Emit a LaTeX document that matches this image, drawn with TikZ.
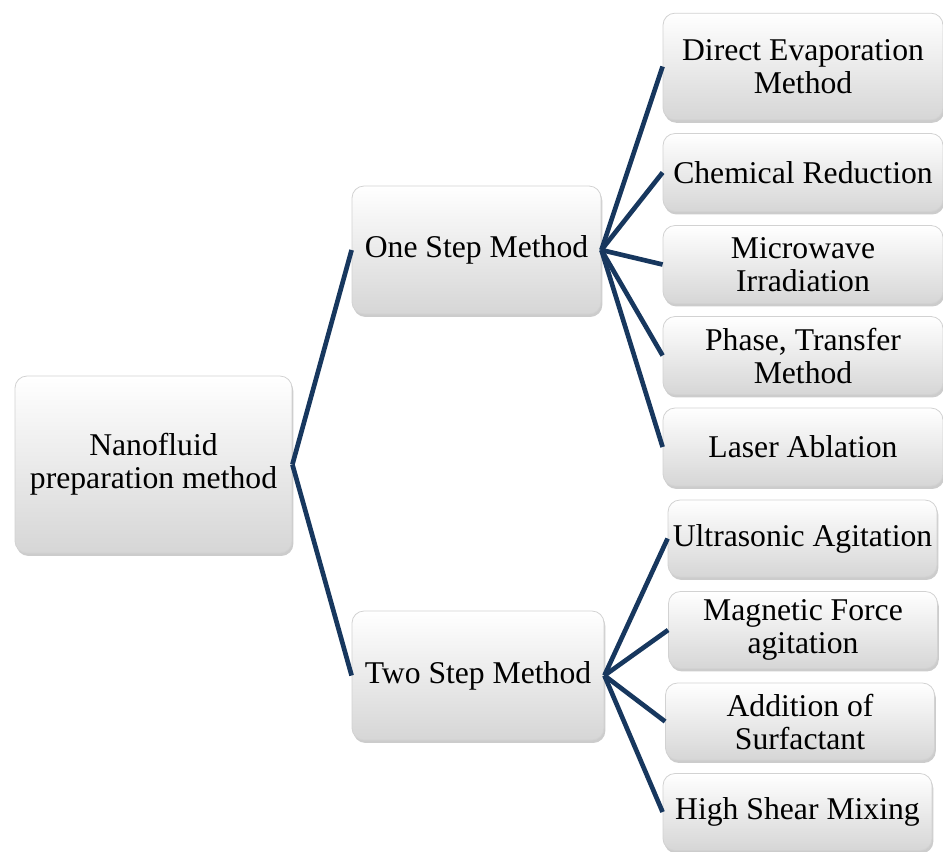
\documentclass[tikz,border=0pt]{standalone}
\usepackage{fontspec}
\setmainfont{Liberation Serif}
\usetikzlibrary{shadows}
\definecolor{linknavy}{RGB}{23,55,94}
\definecolor{boxedge}{RGB}{210,210,210}
\definecolor{boxlow}{RGB}{214,214,214}

\begin{document}
\begin{tikzpicture}[
  x=0.75pt, y=-0.75pt,
  box/.style={rectangle, rounded corners=9pt, draw=boxedge, line width=0.6pt,
              top color=white, bottom color=boxlow, align=center, inner sep=2pt,
              drop shadow={shadow xshift=1pt, shadow yshift=-2.2pt, opacity=0.4},
              font=\fontsize{23.75}{24.75}\selectfont},
  leaftop/.style={box, minimum width=210pt, minimum height=58.5pt},
  leafbot/.style={box, minimum width=201.75pt, minimum height=57.75pt},
  link/.style={linknavy, line width=3.5pt}
]
\useasboundingbox (0,0) rectangle (943,851);

% root and the two methods
\node[box, minimum width=207.75pt, minimum height=132.75pt] (root) at (153.5,464.5)
  {Nanofluid\\preparation method};
\node[box, minimum width=186.75pt, minimum height=96pt] (one) at (476.5,250) {One Step Method};
\node[box, minimum width=189pt, minimum height=96.75pt] (two) at (478,675.5) {Two Step Method};

% one step leaves
\node[leaftop, minimum height=80pt] (evap) at (803,66.5) {Direct Evaporation\\Method};
\node[leaftop] (chem) at (803,172.5) {Chemical Reduction};
\node[leaftop] (micro) at (803,264.5) {Microwave\\Irradiation};
\node[leaftop] (phase) at (803,355.5) {Phase, Transfer\\Method};
\node[leaftop] (laser) at (803,447) {Laser Ablation};

% two step leaves
\node[leafbot] (ultra) at (802.5,538.5) {Ultrasonic Agitation};
\node[leafbot] (magn) at (803,630) {Magnetic Force\\agitation};
\node[leafbot] (surf) at (800,721.5) {Addition of\\Surfactant};
\node[leafbot] (shear) at (797.5,812) {High Shear Mixing};

\draw[link] (root.east) -- (one.west);
\draw[link] (root.east) -- (two.west);
\foreach \leaf in {evap,chem,micro,phase,laser}
  \draw[link] (one.east) -- (\leaf.west);
\foreach \leaf in {ultra,magn,surf,shear}
  \draw[link] (two.east) -- (\leaf.west);
\end{tikzpicture}
\end{document}
